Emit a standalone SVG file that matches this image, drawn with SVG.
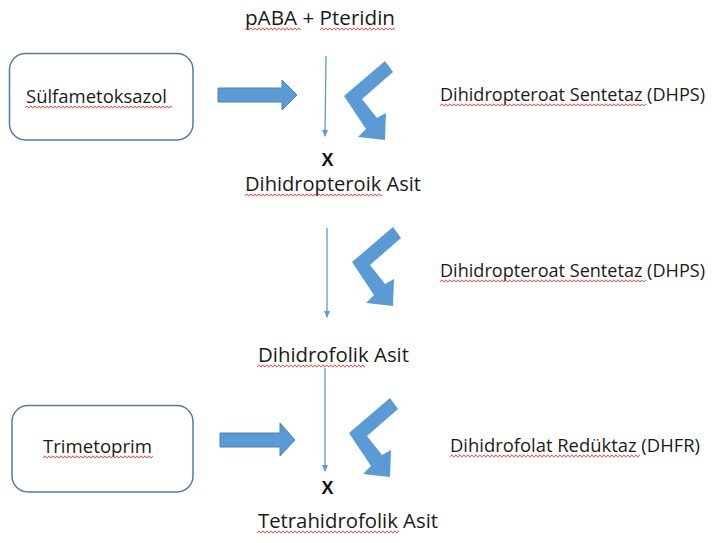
<svg xmlns="http://www.w3.org/2000/svg" width="712" height="543" viewBox="0 0 712 543">
<defs>
<style>
.t{font-family:"Open Sans",Lato,"Liberation Sans",sans-serif;fill:#1a1a1a}
.c{font-size:20px}
.r{font-size:17.5px}
.b{font-size:19px}
.x{font-family:"Liberation Sans",Arial,sans-serif;font-weight:bold;font-size:18px;fill:#111;text-anchor:middle}
.box{fill:#fff;stroke:#4f7ba8;stroke-width:1.5}
.blk{fill:#5B9BD5;stroke:#4a82b8;stroke-width:1}
.thin{stroke:#5B9BD5;stroke-width:1.3;fill:none}
.sq{fill:url(#wave)}
</style>
<pattern id="wave" patternUnits="userSpaceOnUse" width="4" height="4">
<path d="M0,3 L1,1.5 L2,1 L3,2.5 L4,3" fill="none" stroke="#e8302f" stroke-width="0.9"/>
</pattern>
<marker id="ah" markerWidth="8" markerHeight="8" refX="6" refY="4" orient="auto" markerUnits="userSpaceOnUse">
<path d="M0,1 L7,4 L0,7 Z" fill="#5B9BD5"/>
</marker>
<path id="bent" d="M385,61 L393,72 L362,99 L377,118 L386,113 L385,140 L358,137 L366,129 L344,96 Z" fill="#5B9BD5"/>
</defs>
<rect width="712" height="543" fill="#fff"/>

<g id="node-paba">
<text class="t c" x="245" y="25" textLength="150" lengthAdjust="spacingAndGlyphs">pABA + Pteridin</text>
<rect class="sq" transform="translate(245,27)" width="56" height="4"/>
<rect class="sq" transform="translate(320,27)" width="75" height="4"/>
</g>

<g id="node-sulfa">
<rect class="box" x="9.5" y="53.5" width="183.5" height="86.5" rx="16"/>
<text class="t b" x="26" y="103" textLength="141" lengthAdjust="spacingAndGlyphs">Sülfametoksazol</text>
<rect class="sq" transform="translate(25,105)" width="147" height="4"/>
</g>

<g id="node-dhps1">
<text class="t r" x="440" y="101" textLength="265" lengthAdjust="spacingAndGlyphs">Dihidropteroat Sentetaz (DHPS)</text>
<rect class="sq" transform="translate(440,103)" width="206" height="4"/>
</g>

<g id="node-x1">
<text class="x" x="327.5" y="166">X</text>
</g>

<g id="node-dihidropteroik">
<text class="t c" x="245" y="191" textLength="176" lengthAdjust="spacingAndGlyphs">Dihidropteroik Asit</text>
<rect class="sq" transform="translate(245,193)" width="137" height="4"/>
</g>

<g id="node-dhps2">
<text class="t r" x="440" y="277" textLength="265" lengthAdjust="spacingAndGlyphs">Dihidropteroat Sentetaz (DHPS)</text>
<rect class="sq" transform="translate(440,279)" width="206" height="4"/>
</g>

<g id="node-dihidrofolik">
<text class="t c" x="258" y="362" textLength="151" lengthAdjust="spacingAndGlyphs">Dihidrofolik Asit</text>
<rect class="sq" transform="translate(257,364)" width="108" height="4"/>
</g>

<g id="node-trimetoprim">
<rect class="box" x="12" y="405.5" width="181" height="86.5" rx="16"/>
<text class="t b" x="43" y="453" textLength="109" lengthAdjust="spacingAndGlyphs">Trimetoprim</text>
<rect class="sq" transform="translate(43,455)" width="110" height="4"/>
</g>

<g id="node-dhfr">
<text class="t r" x="450" y="452" textLength="250" lengthAdjust="spacingAndGlyphs">Dihidrofolat Redüktaz (DHFR)</text>
<rect class="sq" transform="translate(450,454)" width="190" height="4"/>
</g>

<g id="node-x2">
<text class="x" x="327.5" y="494">X</text>
</g>

<g id="node-tetrahidrofolik">
<text class="t c" x="258" y="528" textLength="180" lengthAdjust="spacingAndGlyphs">Tetrahidrofolik Asit</text>
<rect class="sq" transform="translate(257,530)" width="142" height="4"/>
</g>

<g id="connectors">
<path class="blk" d="M218,88 L282,88 L282,80 L297,95 L282,110 L282,102 L218,102 Z"/>
<path class="blk" d="M220,433 L280,433 L280,423 L295,440 L280,456 L280,447 L220,447 Z"/>
<line class="thin" x1="326" y1="56" x2="325" y2="136" marker-end="url(#ah)"/>
<line class="thin" x1="327" y1="228" x2="327" y2="317" marker-end="url(#ah)"/>
<line class="thin" x1="325" y1="368" x2="325" y2="471" marker-end="url(#ah)"/>
<use href="#bent"/>
<use href="#bent" transform="translate(8,166)"/>
<use href="#bent" transform="translate(5,337)"/>
</g>
</svg>
